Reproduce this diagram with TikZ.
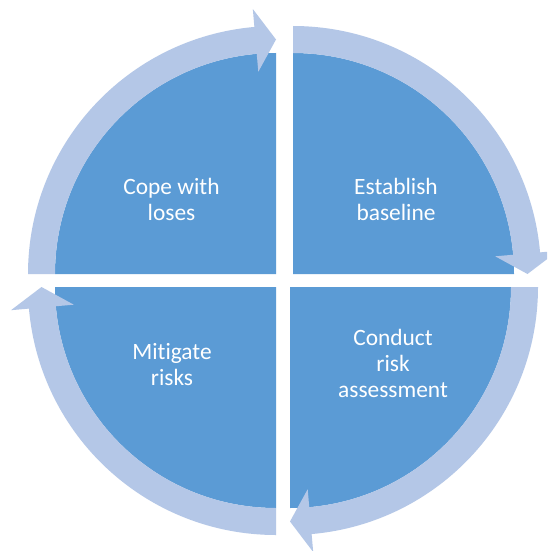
\documentclass[tikz,border=0pt]{standalone}
\usepackage{fontspec}
\setmainfont{Carlito}[Ligatures=NoCommon]
\usetikzlibrary{calc}
\definecolor{darkq}{HTML}{5B9BD5}
\definecolor{lightq}{HTML}{B4C7E7}
\begin{document}
\begin{tikzpicture}[x=1pt,y=1pt,
  quad/.style={fill=darkq,draw=none},
  ring/.style={fill=lightq,draw=none},
  lbl/.style={text=white,align=center,inner sep=0pt,font=\fontsize{23.4}{26}\selectfont}]
\useasboundingbox (0,0) rectangle (547,-551);
\clip (0,0) rectangle (547,-551);
\fill[white] (0,0) rectangle (547,-551);
% quadrant centres
\coordinate (ctl) at (276,-274);
\coordinate (ctr) at (293,-274);
\coordinate (cbr) at (290,-287);
\coordinate (cbl) at (276,-287);
% dark quadrants
\path[quad] (ctl) -- ++(180:221) arc[start angle=180,end angle=90,radius=221] -- cycle;
\path[quad] (ctr) -- ++(90:221) arc[start angle=90,end angle=0,radius=221] -- cycle;
\path[quad] (cbr) -- ++(0:221) arc[start angle=0,end angle=-90,radius=221] -- cycle;
\path[quad] (cbl) -- ++(-90:221) arc[start angle=-90,end angle=-180,radius=221] -- cycle;
% curved arrows
\foreach \c/\a in {ctl/180,ctr/90,cbr/0,cbl/-90}{
  \path[ring] ($(\c)+(\a:248)$) arc[start angle=\a,end angle=\a-85,radius=248]
    -- ($(\c)+(\a-85:266)$) -- ($(\c)+(\a-90:234.5)$) -- ($(\c)+(\a-85:203)$)
    -- ($(\c)+(\a-85:221)$) arc[start angle=\a-85,end angle=\a,radius=221] -- cycle;
}
% labels
\node[lbl] (t1) at (171.5,-199) {Cope with\\loses};
\node[lbl] (t2) at (396,-199) {Establish\\baseline};
\node[lbl] (t3) at (393,-363) {Conduct\\risk\\assessment};
\node[lbl] (t4) at (172,-365) {Mitigate\\risks};
\end{tikzpicture}
\end{document}
